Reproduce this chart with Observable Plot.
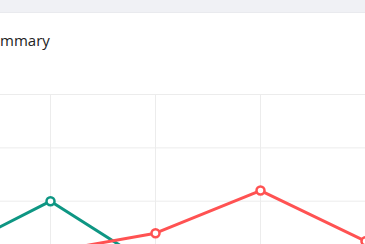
<!DOCTYPE html>
<html>
<head>
<meta charset="utf-8">
<script src="https://cdn.jsdelivr.net/npm/d3@7"></script>
<script src="https://cdn.jsdelivr.net/npm/@observablehq/plot@0.6"></script>
<style>
  html, body { margin: 0; padding: 0; }
  body {
    width: 365px; height: 244px; overflow: hidden; position: relative;
    background: #f0f1f5; font-family: "Open Sans", sans-serif;
  }
  .card {
    position: absolute; left: -120px; top: 12px; width: 485px; height: 320px;
    background: #ffffff; border-top: 1px solid #e9eaee; box-sizing: border-box;
  }
  .title {
    position: absolute; left: -17.4px; top: 30px;
    font: 15px/20px "Open Sans", sans-serif; color: #222; white-space: nowrap;
  }
  #chart { position: absolute; left: -77.4px; top: 84.3px; width: 463px; }
  #chart svg { max-width: none; }
</style>
</head>
<body>
<div class="card"></div>
<div class="title">Summary</div>
<div id="chart"></div>
<script>
// Monthly figures for the two tracked series
const months = ["Jan", "Feb", "Mar", "Apr", "May"];
const seriesA = [20, 40, 15, 10, 18];   // teal
const seriesB = [14, 21, 28, 44, 25];   // red
const yTicks = [0, 20, 40, 60, 80];

const teal = "#0e9683";
const red = "#ff5252";

const rowsA = months.map((m, i) => ({month: m, value: seriesA[i]}));
const rowsB = months.map((m, i) => ({month: m, value: seriesB[i]}));

const chart = Plot.plot({
  width: 463,
  height: 253.4,
  marginTop: 10,
  marginBottom: 30,
  marginLeft: 20,
  marginRight: 20,
  axis: null,
  style: {background: "transparent", fontFamily: "Open Sans, sans-serif"},
  x: {type: "point", domain: months, padding: 0},
  y: {domain: [0, 80]},
  marks: [
    Plot.gridY(yTicks, {stroke: "#ececec", strokeOpacity: 1, strokeWidth: 1}),
    Plot.gridX(months, {stroke: "#ececec", strokeOpacity: 1, strokeWidth: 1}),
    Plot.line(rowsA, {x: "month", y: "value", stroke: teal, strokeWidth: 3, strokeLinejoin: "round"}),
    Plot.line(rowsB, {x: "month", y: "value", stroke: red, strokeWidth: 3, strokeLinejoin: "round"}),
    Plot.dot(rowsA, {x: "month", y: "value", r: 4, fill: "#fff", stroke: teal, strokeWidth: 2.5}),
    Plot.dot(rowsB, {x: "month", y: "value", r: 4, fill: "#fff", stroke: red, strokeWidth: 2.5})
  ]
});
document.getElementById("chart").appendChild(chart);
</script>
</body>
</html>
